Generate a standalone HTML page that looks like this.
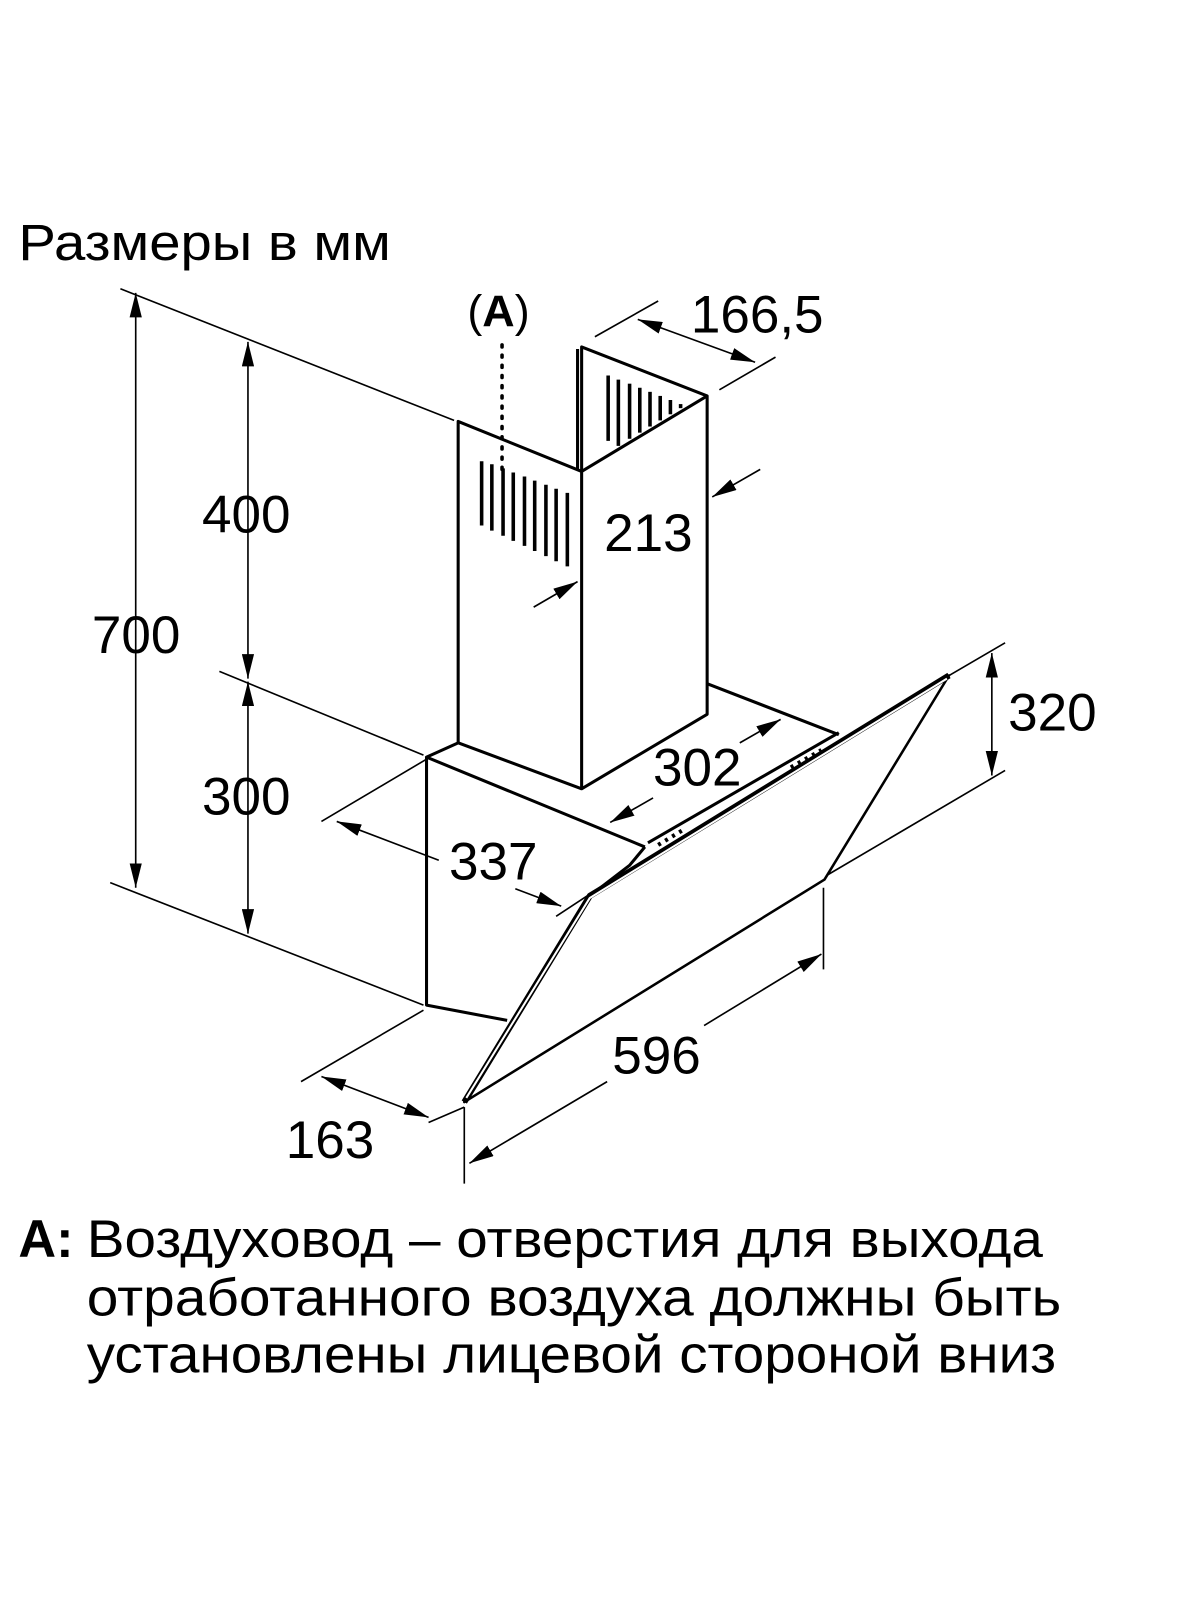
<!DOCTYPE html>
<html><head><meta charset="utf-8"><style>
html,body{margin:0;padding:0;background:#fff;}
svg{display:block;}
text{font-family:"Liberation Sans",sans-serif;fill:#000;}
</style></head><body>
<svg width="1200" height="1600" viewBox="0 0 1176 1568" preserveAspectRatio="none" xmlns="http://www.w3.org/2000/svg">
<defs>
<marker id="ar" viewBox="0 0 24 12" refX="24" refY="6" markerWidth="24" markerHeight="12" markerUnits="userSpaceOnUse" orient="auto-start-reverse">
<path d="M0,0 L24,6 L0,12 Z" fill="#000"/></marker>
</defs>
<text x="18" y="255" font-size="50" textLength="365" lengthAdjust="spacingAndGlyphs">Размеры в мм</text>

<g stroke="#000" stroke-width="1.6" fill="none">
<line x1="118" y1="283" x2="445" y2="412"/>
<line x1="108" y1="865" x2="415" y2="985"/>
<line x1="215" y1="658" x2="415" y2="740"/>
<line x1="315" y1="805" x2="418" y2="744"/>
<line x1="295" y1="1060" x2="415" y2="990"/>
<line x1="420" y1="1100" x2="455" y2="1085"/>
<line x1="455" y1="1085" x2="455" y2="1160"/>
<line x1="807" y1="870" x2="807" y2="950"/>
<line x1="925" y1="665" x2="985" y2="630"/>
<line x1="810" y1="858" x2="985" y2="755"/>
<line x1="583" y1="330" x2="645" y2="295"/>
<line x1="705" y1="382" x2="760" y2="350"/>
<line x1="545" y1="898" x2="580" y2="875"/>
<line x1="133" y1="287" x2="133" y2="870" marker-start="url(#ar)" marker-end="url(#ar)"/>
<line x1="243" y1="335" x2="243" y2="665" marker-start="url(#ar)" marker-end="url(#ar)"/>
<line x1="243" y1="668" x2="243" y2="915" marker-start="url(#ar)" marker-end="url(#ar)"/>
<line x1="972" y1="640" x2="972" y2="760" marker-start="url(#ar)" marker-end="url(#ar)"/>
<line x1="625" y1="313" x2="740" y2="355" marker-start="url(#ar)" marker-end="url(#ar)"/>
<line x1="745" y1="460" x2="698" y2="487" marker-end="url(#ar)"/>
<line x1="523" y1="595" x2="566" y2="570" marker-end="url(#ar)"/>
<line x1="330" y1="805" x2="430" y2="843" marker-start="url(#ar)"/>
<line x1="505" y1="871" x2="550" y2="888" marker-end="url(#ar)"/>
<line x1="315" y1="1055" x2="420" y2="1095" marker-start="url(#ar)" marker-end="url(#ar)"/>
<line x1="460" y1="1140" x2="595" y2="1060" marker-start="url(#ar)"/>
<line x1="690" y1="1005" x2="805" y2="935" marker-end="url(#ar)"/>
<line x1="725" y1="728" x2="765" y2="705" marker-end="url(#ar)"/>
<line x1="640" y1="782" x2="598" y2="806" marker-end="url(#ar)"/>
<line x1="492" y1="338" x2="492" y2="468" stroke-width="3.5" stroke-dasharray="2 8" stroke-linecap="round"/>
</g>

<g stroke="#000" stroke-width="3" fill="none" stroke-linejoin="round">
<polyline points="449,728 449,413 570,462 570,773 693,700 693,388 570,340 570,462"/>
<line x1="566" y1="342" x2="566" y2="460"/>
<line x1="570" y1="462" x2="693" y2="388"/>
<polyline points="449,728 570,773"/>
<polyline points="449,728 418,742 632,830"/>
<polyline points="418,742 418,985 497,1000"/>
<polyline points="693,670 822,720"/>
<polyline points="632,830 617,848 578,878"/>
<line x1="635" y1="826" x2="822" y2="718"/>
</g>
<g stroke="#000" stroke-width="3.5">
<line x1="472" y1="452" x2="472" y2="515"/><line x1="482" y1="455" x2="482" y2="520"/>
<line x1="493" y1="459" x2="493" y2="525"/><line x1="503" y1="463" x2="503" y2="530"/>
<line x1="514" y1="467" x2="514" y2="535"/><line x1="524" y1="471" x2="524" y2="540"/>
<line x1="535" y1="475" x2="535" y2="545"/><line x1="545" y1="479" x2="545" y2="550"/>
<line x1="556" y1="483" x2="556" y2="555"/>
<line x1="596" y1="368" x2="596" y2="432"/><line x1="606" y1="372" x2="606" y2="437"/>
<line x1="617" y1="376" x2="617" y2="430"/><line x1="627" y1="380" x2="627" y2="424"/>
<line x1="637" y1="384" x2="637" y2="418"/><line x1="647" y1="388" x2="647" y2="412"/>
<line x1="657" y1="392" x2="657" y2="406"/><line x1="667" y1="396" x2="667" y2="400"/>
</g>
<g fill="none" stroke="#000" stroke-linejoin="round">
<polygon points="455,1080 578,878 930,662 808,862" stroke-width="2.5"/>
<polyline points="455,1080 578,878 930,662" stroke-width="6"/>
<polyline points="457,1076 578,880 928,665" stroke-width="2" stroke="#fff"/>
<line x1="645" y1="828" x2="670" y2="813" stroke-width="4" stroke-dasharray="3 5"/>
<line x1="775" y1="752" x2="805" y2="735" stroke-width="4" stroke-dasharray="3 5"/>
</g>

<g font-size="52">
<text x="90" y="640">700</text>
<text x="198" y="522">400</text>
<text x="198" y="798">300</text>
<text x="440" y="862">337</text>
<text x="640" y="770">302</text>
<text x="592" y="540">213</text>
<text x="677" y="326">166,5</text>
<text x="988" y="716">320</text>
<text x="600" y="1052">596</text>
<text x="280" y="1135">163</text>
</g>
<text x="458" y="320" font-size="44">(<tspan font-weight="bold">A</tspan>)</text>

<g font-size="52">
<text x="18" y="1232" font-weight="bold" textLength="54" lengthAdjust="spacingAndGlyphs">A:</text>
<text x="85" y="1232" textLength="937" lengthAdjust="spacingAndGlyphs">Воздуховод – отверстия для выхода</text>
<text x="85" y="1289" textLength="955" lengthAdjust="spacingAndGlyphs">отработанного воздуха должны быть</text>
<text x="85" y="1345" textLength="950" lengthAdjust="spacingAndGlyphs">установлены лицевой стороной вниз</text>
</g>
</svg>
</body></html>
